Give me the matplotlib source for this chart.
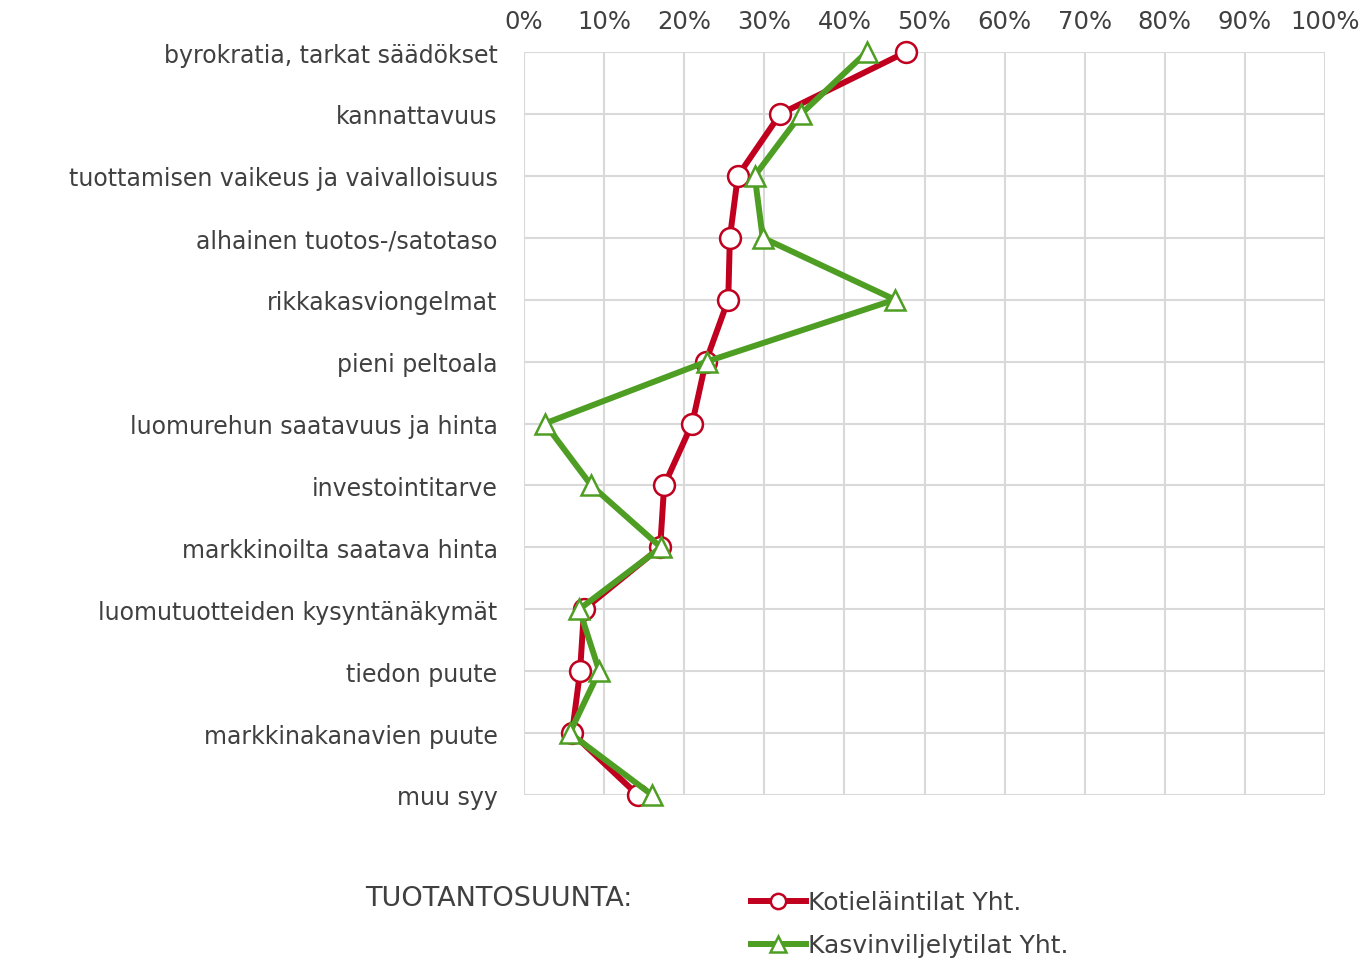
import numpy as np
import matplotlib.pyplot as plt
from matplotlib.ticker import PercentFormatter

plt.rcParams['font.family'] = ['DejaVu Sans']

categories = ['byrokratia, tarkat säädökset', 'kannattavuus',
              'tuottamisen vaikeus ja vaivalloisuus', 'alhainen tuotos-/satotaso',
              'rikkakasviongelmat', 'pieni peltoala', 'luomurehun saatavuus ja hinta',
              'investointitarve', 'markkinoilta saatava hinta',
              'luomutuotteiden kysyntänäkymät', 'tiedon puute',
              'markkinakanavien puute', 'muu syy']
kotielain = [47.7, 32.0, 26.7, 25.7, 25.5, 22.7, 21.0, 17.5, 17.0, 7.5, 7.0, 6.0, 14.2]
kasvinviljely = [42.8, 34.6, 28.8, 29.8, 46.3, 22.8, 2.6, 8.4, 17.1, 6.9, 9.4, 5.7, 16.0]

RED = '#C0001E'
GREEN = '#4E9E24'
TXT = '#404040'

fig = plt.figure(figsize=(13.66, 9.62), dpi=100)
ax = fig.add_axes([524/1366, 1-796/962, (1325-524)/1366, (796-53)/962])

y = np.arange(len(categories))
ax.plot(kasvinviljely, y, color=GREEN, lw=4.3, marker='^', ms=15, mfc='white',
        mec=GREEN, mew=1.8, clip_on=False, zorder=3, label='Kasvinviljelytilat Yht.')
ax.plot(kotielain, y, color=RED, lw=4.3, marker='o', ms=15, mfc='white',
        mec=RED, mew=1.8, clip_on=False, zorder=2, label='Kotieläintilat Yht.')

ax.set_xlim(0, 100)
ax.set_ylim(len(categories)-1, 0)
ax.set_xticks(np.arange(0, 101, 10))
ax.xaxis.set_major_formatter(PercentFormatter(decimals=0))
ax.xaxis.tick_top()
ax.set_yticks(y)
ax.set_yticklabels(categories)
ax.tick_params(axis='both', length=0, colors=TXT)
ax.tick_params(axis='y', pad=19, labelsize=17)
ax.tick_params(axis='x', pad=14, labelsize=17.5)
ax.grid(True, color='#D9D9D9', lw=1.5)
ax.set_axisbelow(True)
for s in ax.spines.values():
    s.set_visible(False)

fig.text(365/1366, 1-899/962, 'TUOTANTOSUUNTA:', fontsize=19.5, color=TXT, va='center')
h, l = ax.get_legend_handles_labels()
leg = fig.legend(h[::-1], l[::-1], loc='upper left', bbox_to_anchor=(738/1366, 1-879/962),
                 frameon=False, fontsize=18, handlelength=2.2, handletextpad=0.1,
                 labelspacing=0.75, borderpad=0)
for t in leg.get_texts():
    t.set_color(TXT)
for lh in leg.legend_handles:
    lh.set_markersize(11)

fig.savefig('out.png', dpi=100)
